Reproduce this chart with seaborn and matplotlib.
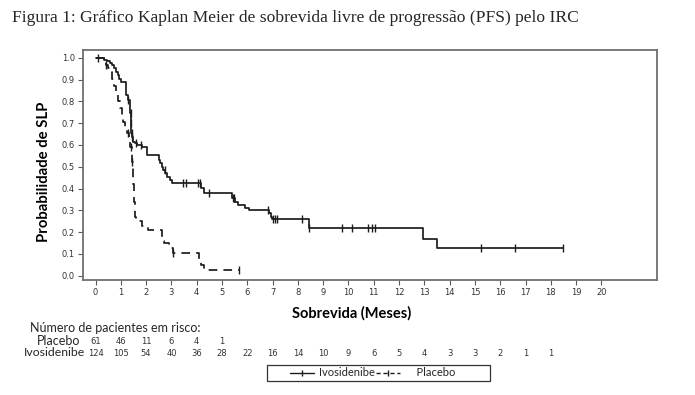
import numpy as np
import pandas as pd
import matplotlib
matplotlib.use('Agg')
import matplotlib.pyplot as plt
from matplotlib.lines import Line2D
from matplotlib.patches import Rectangle
from matplotlib.transforms import blended_transform_factory
import seaborn as sns

# Kaplan-Meier steps (time in months, survival after step)
ivo_t = [0, 0.35, 0.45, 0.57, 0.65, 0.72, 0.80, 0.87, 0.93, 0.99, 1.22, 1.27,
         1.38, 1.40, 1.42, 1.44, 1.47, 1.55, 1.65, 1.85, 2.02, 2.50, 2.56,
         2.62, 2.68, 2.76, 2.83, 2.94, 3.02, 4.18, 4.28, 5.40, 5.52, 5.62,
         5.90, 6.06, 6.84, 6.92, 6.98, 8.42, 12.93, 13.50]
ivo_s = [1.0, 0.992, 0.984, 0.976, 0.968, 0.952, 0.936, 0.920, 0.904, 0.890,
         0.830, 0.806, 0.745, 0.700, 0.653, 0.638, 0.615, 0.607, 0.600, 0.590,
         0.556, 0.531, 0.515, 0.500, 0.485, 0.470, 0.455, 0.440, 0.425, 0.401,
         0.378, 0.355, 0.339, 0.324, 0.309, 0.302, 0.286, 0.268, 0.259, 0.217,
         0.170, 0.127]
ivo_end = 18.48
ivo_cens = [0.10, 1.30, 1.39, 1.41, 1.43, 1.45, 1.60, 1.80, 2.75, 3.46, 3.57,
            4.05, 4.12, 4.49, 5.44, 5.48, 6.80, 7.00, 7.10, 7.18, 8.18, 8.45,
            9.75, 10.15, 10.79, 10.92, 11.05, 15.24, 16.57, 18.48]

pla_t = [0, 0.40, 0.50, 0.58, 0.66, 0.74, 0.82, 0.90, 0.98, 1.04, 1.10, 1.18,
         1.26, 1.34, 1.38, 1.43, 1.47, 1.51, 1.55, 1.60, 1.82, 2.08, 2.64,
         2.72, 2.90, 3.05, 4.10, 4.18, 4.30]
pla_s = [1.0, 0.967, 0.951, 0.934, 0.902, 0.869, 0.836, 0.803, 0.770, 0.738,
         0.705, 0.672, 0.656, 0.623, 0.590, 0.520, 0.420, 0.340, 0.270, 0.250,
         0.230, 0.210, 0.160, 0.148, 0.126, 0.103, 0.075, 0.050, 0.026]
pla_end = 5.68
pla_cens = [0.42, 1.30, 1.40, 1.45, 3.07, 5.68]

# numbers at risk
months = list(range(0, 21))
risk_pla = [61, 46, 11, 6, 4, 1]
risk_ivo = [124, 105, 54, 40, 36, 28, 22, 16, 14, 10, 9, 6, 5, 4, 3, 3, 2, 1, 1]

ink = '#1c1c1c'
grey = '#5a5a5a'

sns.set_style('white')
plt.rcParams['font.family'] = ['DejaVu Sans']

fig = plt.figure(figsize=(6.95, 3.95), dpi=100)
ax = fig.add_axes([0.120, 0.291, 0.825, 0.582])


def km_frame(t, s, end):
    return pd.DataFrame({'t': list(t) + [end], 's': list(s) + [s[-1]]})


def cens_y(t, s, c):
    idx = np.searchsorted(t, c, side='right') - 1
    return np.array(s)[idx]


df_ivo = km_frame(ivo_t, ivo_s, ivo_end)
df_pla = km_frame(pla_t, pla_s, pla_end)

sns.lineplot(data=df_ivo, x='t', y='s', drawstyle='steps-post', estimator=None,
             sort=False, color=ink, linewidth=1.25, ax=ax)
sns.lineplot(data=df_pla, x='t', y='s', drawstyle='steps-post', estimator=None,
             sort=False, color=ink, linewidth=1.25, linestyle=(0, (5, 3.5)), ax=ax)

sns.scatterplot(x=ivo_cens, y=cens_y(ivo_t, ivo_s, ivo_cens), marker='|',
                s=28, linewidth=1.0, color=ink, ax=ax)
sns.scatterplot(x=pla_cens, y=cens_y(pla_t, pla_s, pla_cens), marker='|',
                s=28, linewidth=1.0, color=ink, ax=ax)

ax.set_xlim(-0.48, 22.19)
ax.set_ylim(-0.02, 1.035)
ax.set_xticks(months)
ax.set_yticks(np.arange(0, 1.01, 0.1))
ax.set_yticklabels([f'{v:.1f}' for v in np.arange(0, 1.01, 0.1)])
ax.tick_params(axis='both', direction='out', length=3.5, width=0.8,
               color=grey, labelsize=6, labelcolor='#333333', pad=2.5,
               bottom=True, left=True)
for sp in ax.spines.values():
    sp.set_color('#707070')
    sp.set_linewidth(1.3)

ax.set_ylabel('Probabilidade de SLP', family='Lato', fontweight='bold',
              fontsize=10.7, color='black')
ax.yaxis.set_label_coords(-0.056, 0.471)
ax.set_xlabel('Sobrevida (Meses)', family='Lato', fontweight='bold',
              fontsize=10.5, color='black')
ax.xaxis.set_label_coords(0.468, -0.112)

fig.text(12 / 695, 1 - 18 / 395,
         'Figura 1: Gráfico Kaplan Meier de sobrevida livre de progressão (PFS) pelo IRC',
         family='Liberation Serif', fontsize=12.6, va='center', ha='left')

# at-risk table
fig.text(30 / 695, 1 - 328 / 395, 'Número de pacientes em risco:',
         family='Lato', fontsize=9, va='center')
fig.text(37 / 695, 1 - 341 / 395, 'Placebo', family='Lato', fontsize=9,
         va='center')
fig.text(24 / 695, 1 - 353 / 395, 'Ivosidenibe', family='Lato', fontsize=8.8,
         va='center')
trans = blended_transform_factory(ax.transData, fig.transFigure)
for m, n in zip(months, risk_pla):
    ax.text(m, 1 - 341 / 395, str(n), transform=trans, ha='center',
            va='center', fontsize=6, color='#333333')
for m, n in zip(months, risk_ivo):
    ax.text(m, 1 - 353 / 395, str(n), transform=trans, ha='center',
            va='center', fontsize=6, color='#333333')

# legend box below the table
fig.add_artist(Rectangle((267 / 695, 1 - 381 / 395), 223 / 695, 16 / 395,
                         transform=fig.transFigure, fill=False,
                         edgecolor='#333333', linewidth=0.9))
handles = [Line2D([], [], color=ink, lw=1.0, marker='|', ms=5),
           Line2D([], [], color=ink, lw=1.0, ls=(0, (3, 2)), marker='|', ms=5)]
fig.legend(handles, ['Ivosidenibe', '    Placebo'], ncol=2, loc='center left',
           bbox_to_anchor=(290 / 695, 1 - 373 / 395), frameon=False,
           borderpad=0, borderaxespad=0, handlelength=2.2, handletextpad=0.4,
           columnspacing=0.1, prop={'family': 'Lato', 'size': 8})

fig.savefig('out.png', dpi=100)
